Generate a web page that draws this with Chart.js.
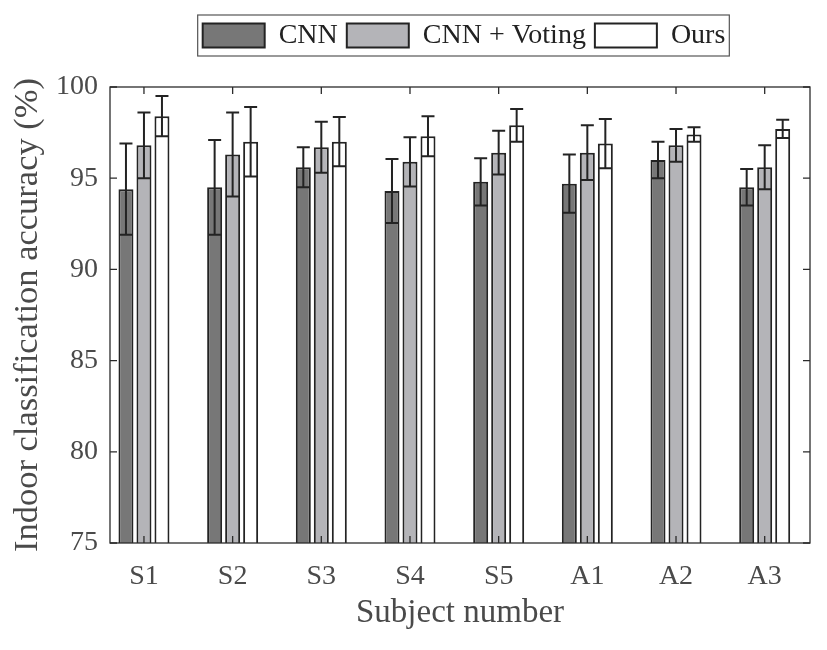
<!DOCTYPE html>
<html>
<head>
<meta charset="utf-8">
<script src="https://cdn.jsdelivr.net/npm/chart.js@4"></script>
<style>
  html, body { margin: 0; padding: 0; background: #fff; }
  #wrap { width: 827px; height: 650px; }
</style>
</head>
<body>
<div id="wrap"><canvas id="accChart" width="827" height="650"></canvas></div>
<script>
const subjects = ['S1', 'S2', 'S3', 'S4', 'S5', 'A1', 'A2', 'A3'];
const cnnMean = [94.4, 94.5, 95.6, 94.3, 94.8, 94.7, 96.0, 94.5];
const cnnErr = [2.5, 2.6, 1.1, 1.75, 1.3, 1.6, 1.0, 1.0];
const votingMean = [96.8, 96.3, 96.7, 95.9, 96.4, 96.4, 96.8, 95.6];
const votingErr = [1.8, 2.3, 1.4, 1.35, 1.2, 1.5, 0.9, 1.2];
const oursMean = [98.4, 97.0, 97.0, 97.3, 97.9, 96.9, 97.4, 97.7];
const oursErr = [1.1, 1.9, 1.35, 1.1, 0.9, 1.35, 0.4, 0.5];
const yTicks = [75, 80, 85, 90, 95, 100];

const serif = "'Liberation Serif', 'Times New Roman', serif";
const textGray = '#4a4a4a';
const edge = '#232323';

const toPoints = arr => arr.map((v, i) => ({ x: i + 1, y: v }));

// error bars drawn from the bar elements and the y scale
const errorBars = {
    id: 'errorBars',
    afterDatasetsDraw(chart) {
        const ctx = chart.ctx;
        const yScale = chart.scales.y;
        ctx.save();
        ctx.strokeStyle = edge;
        ctx.lineWidth = 2;
        chart.data.datasets.forEach((ds, di) => {
            const meta = chart.getDatasetMeta(di);
            meta.data.forEach((bar, i) => {
                const v = ds.data[i].y;
                const e = ds.errors[i];
                const top = yScale.getPixelForValue(v + e);
                const bot = yScale.getPixelForValue(v - e);
                const x = bar.x;
                const half = 6.5;
                ctx.beginPath();
                ctx.moveTo(x, top); ctx.lineTo(x, bot);
                ctx.moveTo(x - half, top); ctx.lineTo(x + half, top);
                ctx.moveTo(x - half, bot); ctx.lineTo(x + half, bot);
                ctx.stroke();
            });
        });
        ctx.restore();
    }
};

// matlab style box with inward ticks
const frameBox = {
    id: 'frameBox',
    afterDraw(chart) {
        const { ctx, chartArea: a, scales } = chart;
        ctx.save();
        ctx.strokeStyle = '#2b2b2b';
        ctx.lineWidth = 1.3;
        ctx.strokeRect(a.left, a.top, a.right - a.left, a.bottom - a.top);
        const len = 7;
        ctx.beginPath();
        yTicks.forEach(t => {
            const y = scales.y.getPixelForValue(t);
            ctx.moveTo(a.left, y); ctx.lineTo(a.left + len, y);
            ctx.moveTo(a.right, y); ctx.lineTo(a.right - len, y);
        });
        subjects.forEach((s, i) => {
            const x = scales.x.getPixelForValue(i + 1);
            ctx.moveTo(x, a.top); ctx.lineTo(x, a.top + len);
            ctx.moveTo(x, a.bottom); ctx.lineTo(x, a.bottom - len);
        });
        ctx.stroke();

        // frame round the legend
        const lg = chart.legend;
        if (lg && lg.legendHitBoxes.length) {
            const hb = lg.legendHitBoxes;
            const dx = lg._dx || 0;
            const dy = lg._dy || 0;
            const first = hb[0];
            const last = hb[hb.length - 1];
            const x0 = first.left + dx - 5;
            const x1 = last.left + last.width + dx + 4;
            const y0 = first.top + dy - 6.5;
            const y1 = first.top + first.height + dy + 6.5;
            ctx.strokeStyle = '#555';
            ctx.lineWidth = 1.2;
            ctx.strokeRect(x0, y0, x1 - x0, y1 - y0);
        }
        ctx.restore();
    }
};

// move the legend so it sits over the axes like the figure
const legendShift = {
    id: 'legendShift',
    afterUpdate(chart) {
        const lg = chart.legend;
        lg._dx = 464 - (lg.left + lg.right) / 2;
        lg._dy = -27.5;
        lg.left += lg._dx;
        lg.right += lg._dx;
        lg.top += lg._dy;
        lg.bottom += lg._dy;
    }
};

const ctx = document.getElementById('accChart').getContext('2d');
new Chart(ctx, {
    type: 'bar',
    data: {
        datasets: [{
            label: 'CNN',
            data: toPoints(cnnMean),
            errors: cnnErr,
            backgroundColor: '#777777',
            borderColor: edge,
            borderWidth: 2
        }, {
            label: 'CNN + Voting',
            data: toPoints(votingMean),
            errors: votingErr,
            backgroundColor: '#b4b4b8',
            borderColor: edge,
            borderWidth: 2
        }, {
            label: 'Ours',
            data: toPoints(oursMean),
            errors: oursErr,
            backgroundColor: '#ffffff',
            borderColor: edge,
            borderWidth: 2
        }]
    },
    options: {
        responsive: false,
        animation: false,
        categoryPercentage: 0.609,
        barPercentage: 0.833,
        layout: { padding: { left: 4, right: 17, top: 40, bottom: 4 } },
        scales: {
            x: {
                type: 'linear',
                offset: false,
                min: 0.617,
                max: 8.511,
                afterBuildTicks: axis => {
                    axis.ticks = subjects.map((s, i) => ({ value: i + 1 }));
                },
                afterFit: scale => { scale.height = 103; },
                grid: { display: false, drawTicks: false, offset: false },
                border: { display: false },
                ticks: {
                    autoSkip: false,
                    maxRotation: 0,
                    padding: 17,
                    color: textGray,
                    font: { family: serif, size: 28 },
                    callback: v => subjects[v - 1] || ''
                },
                title: {
                    display: true,
                    text: 'Subject number',
                    color: textGray,
                    font: { family: serif, size: 33 },
                    padding: { top: 0, bottom: 13 }
                }
            },
            y: {
                min: 75,
                max: 100,
                afterBuildTicks: axis => {
                    axis.ticks = yTicks.map(v => ({ value: v }));
                },
                afterFit: scale => { scale.width = 106; },
                grid: { display: false, drawTicks: false },
                border: { display: false },
                ticks: {
                    padding: 12,
                    color: textGray,
                    font: { family: serif, size: 28 }
                },
                title: {
                    display: true,
                    text: 'Indoor classification accuracy (%)',
                    color: textGray,
                    font: { family: serif, size: 34.5 },
                    padding: { top: 3, bottom: 0 }
                }
            }
        },
        plugins: {
            legend: {
                position: 'top',
                labels: {
                    boxWidth: 62,
                    boxHeight: 24,
                    padding: 9,
                    color: '#222',
                    font: { family: serif, size: 28 }
                }
            },
            tooltip: { enabled: false }
        }
    },
    plugins: [errorBars, frameBox, legendShift]
});
</script>
</body>
</html>
